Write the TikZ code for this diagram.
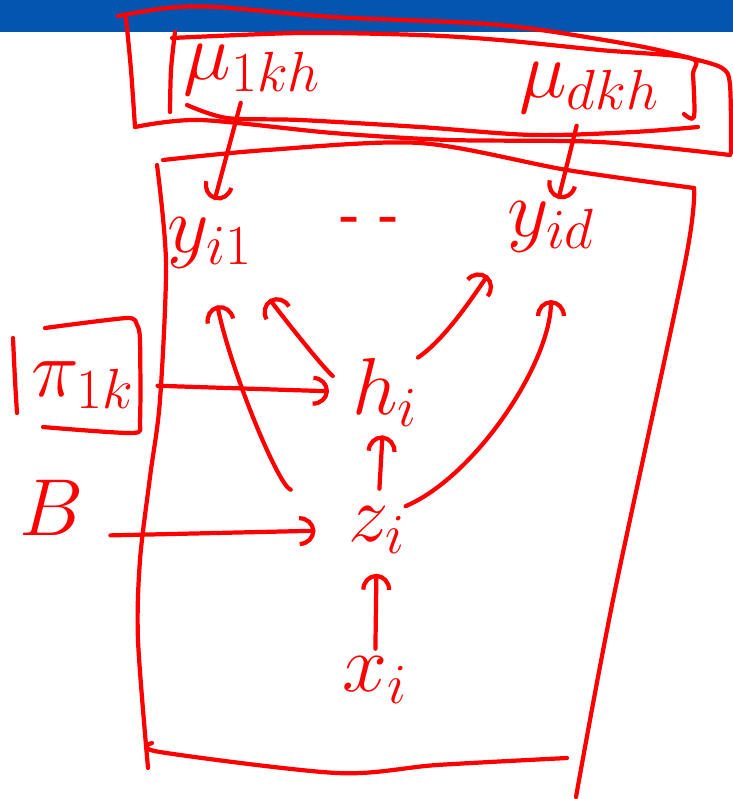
\RequirePackage{fix-cm}
\documentclass[tikz,border=0pt]{standalone}
\usepackage{amsmath}
\usetikzlibrary{arrows.meta}
\definecolor{pen}{RGB}{255,0,0}
\definecolor{barblue}{RGB}{4,85,176}
\tikzstyle{ink}=[draw=pen,line width=2.4pt,line cap=round,line join=round]
\tikzstyle{arr}=[ink,-{Arc Barb[length=3.2mm,width=6mm]}]
\tikzstyle{var}=[text=pen,inner sep=0pt,font=\fontsize{46}{50}\selectfont]

\begin{document}
\begin{tikzpicture}[x=0.02cm,y=-0.02cm]
  \useasboundingbox (0,0) rectangle (733,799);
  \fill[barblue] (0,0) rectangle (733,32);

  % outer box round the means
  \draw[ink] plot[smooth] coordinates {(118,16) (167,8) (217,7) (333,17) (500,25) (633,45) (690,58) (722,68) (730,85) (731,153)};
  \draw[ink] plot[smooth] coordinates {(126,18) (131,70) (135,127)};
  \draw[ink] plot[smooth] coordinates {(135,127) (200,120) (333,133) (450,140) (600,142) (730,155)};
  % inner box
  \draw[ink] plot[smooth] coordinates {(175,32) (171,70) (170,112)};
  \draw[ink] plot[smooth,tension=0.5] coordinates {(172,38) (300,33) (420,35) (500,40) (600,50) (690,58) (693,75) (694,117) (684,114)};
  \draw[ink] plot[smooth] coordinates {(187,105) (227,118) (300,120) (420,127) (533,135) (633,132) (698,127)};

  % plate over i
  \draw[ink] plot[smooth] coordinates {(157,165) (166,263) (160,400) (150,477) (140,560) (138,640) (148,768)};
  \draw[ink] plot[smooth] coordinates {(163,160) (267,150) (420,143) (567,170) (694,188)};
  \draw[ink] plot[smooth] coordinates {(694,188) (685,263) (613,600) (576,797)};
  \draw[ink] plot[smooth] coordinates {(152,743) (160,752) (337,773) (437,765) (567,758)};

  % box for pi
  \draw[ink] plot[smooth] coordinates {(13,338) (15,380) (17,413)};
  \draw[ink] plot[smooth,tension=0.4] coordinates {(45,328) (127,318) (137,325) (140,340) (140,420) (133,433) (43,427)};

  \node[var] (mua) at (252,70) {$\mu_{1kh}$};
  \node[var] (mud) at (589,88) {$\mu_{dkh}$};
  \node[var] (ya) at (210,243) {$y_{i1}$};
  \node[var,font=\fontsize{30}{34}\selectfont\bfseries] (dots) at (370,224) {- -};
  \node[var] (yd) at (551,227) {$y_{id}$};
  \node[var] (pi) at (83,385) {$\pi_{1k}$};
  \node[var] (B) at (52,508) {$B$};
  \node[var] (h) at (385,392) {$h_i$};
  \node[var] (z) at (377,530) {$z_i$};
  \node[var] (x) at (375,680) {$x_i$};

  \draw[arr,shorten <=0.15cm,shorten >=0.36cm] (mua.-110) -- (ya.north);
  \draw[arr,shorten <=0.25cm,shorten >=0.05cm] (mud.-110) -- (yd.75);

  \draw[arr,shorten <=0.5cm,shorten >=0.7cm] (h.west) .. controls +(-30,-25) and +(20,35) .. (ya.south east);
  \draw[arr,shorten <=1.2cm,shorten >=0.75cm] (z.north west) .. controls +(-70,-20) and +(20,100) .. (ya.south);
  \draw[arr,shorten >=0.6cm] (h.north east) .. controls +(30,-20) and +(-25,30) .. (yd.south west);
  \draw[arr,shorten >=0.95cm] (z.north east) .. controls +(70,-30) and +(0,110) .. (yd.south);

  \draw[arr,shorten <=0.46cm,shorten >=0.46cm] (pi.east) -- (h.west);
  \draw[arr,shorten <=0.52cm,shorten >=0.66cm] (B.south east) -- (z.west);
  \draw[arr,shorten <=0.35cm,shorten >=0.18cm] (z) -- (h);
  \draw[arr,shorten <=0.15cm,shorten >=0.4cm] (x) -- (z);
\end{tikzpicture}
\end{document}
